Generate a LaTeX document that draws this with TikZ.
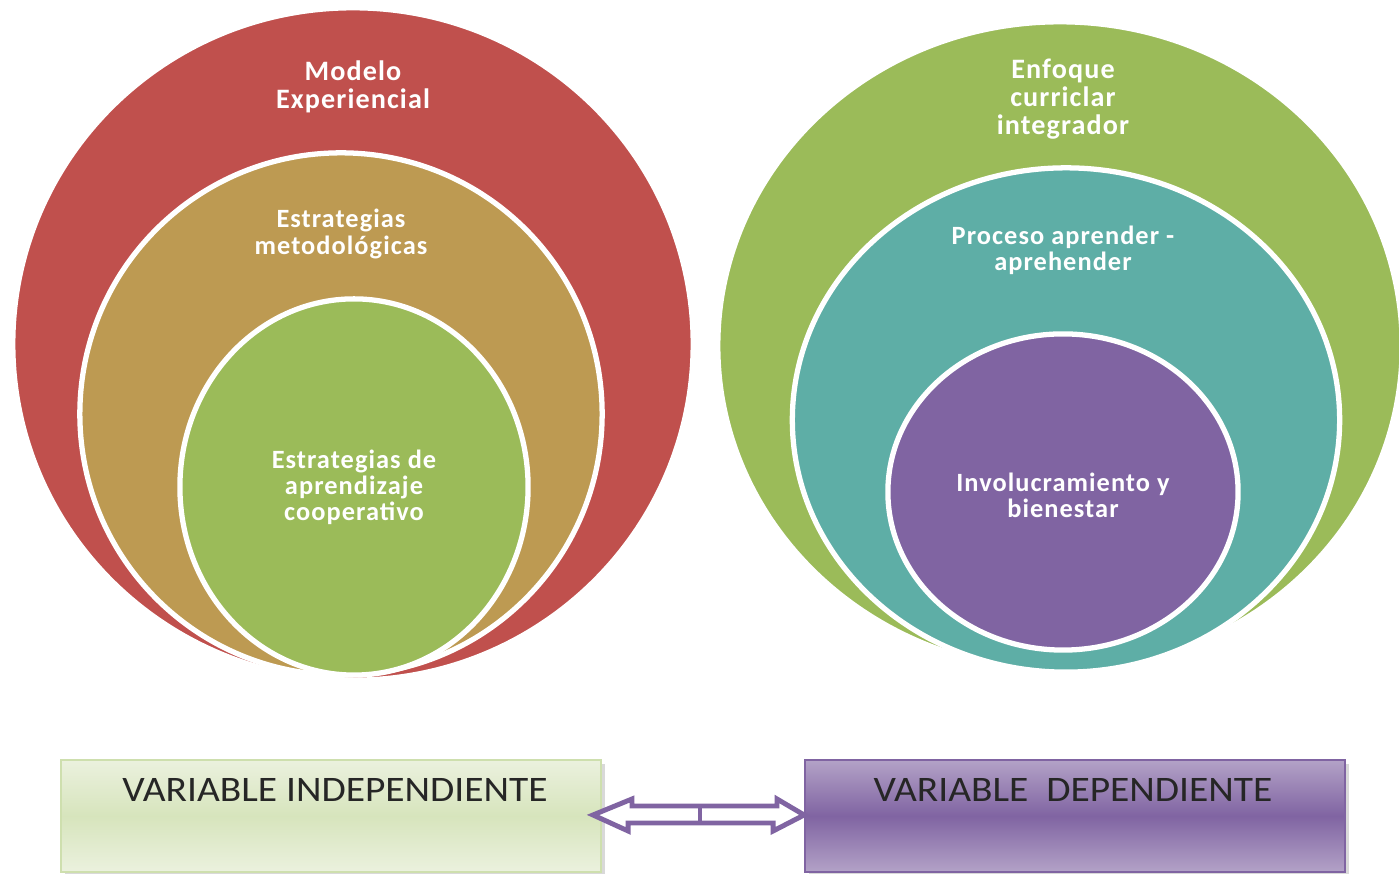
\documentclass[tikz,border=0pt]{standalone}
\usepackage{fontspec}
\setmainfont{Carlito}
\newfontfamily\circfont[LetterSpace=4]{Carlito}
\newfontfamily\boxfont[FakeStretch=1.1]{Carlito}
\usetikzlibrary{shapes.geometric,shadows,calc}
\definecolor{rojo}{HTML}{C0504D}
\definecolor{ocre}{HTML}{BD9A52}
\definecolor{verde}{HTML}{9BBB59}
\definecolor{turquesa}{HTML}{5EAEA6}
\definecolor{morado}{HTML}{8064A2}
\definecolor{moradoclaro}{HTML}{B3A2C7}
\definecolor{verdeclaro}{HTML}{EBF1DE}
\definecolor{verdemedio}{HTML}{CEDFAE}
\begin{document}
\begin{tikzpicture}
		[x=0.01cm,y=-0.01cm,
		circulo/.style={ellipse,draw=white,line width=1.5pt,inner sep=0pt},
		titulo/.style={text=white,align=center,font=\circfont\bfseries\fontsize{8}{8}\selectfont},
		subtitulo/.style={text=white,align=center,font=\circfont\bfseries\fontsize{7.5}{7.4}\selectfont},
		recuadro/.style={minimum width=5.4cm,minimum height=1.12cm,inner sep=0pt,
			drop shadow={shadow xshift=1.2pt,shadow yshift=-1.2pt,opacity=0.3}},
		vtexto/.style={anchor=base,text=black!85,font=\boxfont\fontsize{10.2}{11}\selectfont},
		flecha/.style={draw=morado,line width=1.4pt,fill=white,line join=miter}
		]
		\clip (0,0) rectangle (1399,874);
		% variable independiente
		\node[circulo,fill=rojo,minimum width=6.8cm,minimum height=6.72cm] (modelo) at (353,344) {};
		\node[circulo,fill=ocre,minimum width=5.22cm,minimum height=5.22cm] (metodo) at (341,414) {};
		\node[circulo,fill=verde,minimum width=3.48cm,minimum height=3.76cm] (coop) at (354,487) {};
		\node[titulo] at (353,87) {Modelo\\Experiencial};
		\node[subtitulo] at (341,234) {Estrategias\\metodológicas};
		\node[subtitulo] at (coop) {Estrategias de\\aprendizaje\\cooperativo};
		% variable dependiente
		\node[circulo,fill=verde,minimum width=6.84cm,minimum height=6.48cm] (enfoque) at (1060,346) {};
		\node[circulo,fill=turquesa,minimum width=5.47cm,minimum height=5.04cm] (proceso) at (1066,420) {};
		\node[circulo,fill=morado,minimum width=3.5cm,minimum height=3.16cm] (involucra) at (1063,492) {};
		\node[titulo] at (1063,99) {Enfoque\\curriclar\\integrador};
		\node[subtitulo] at (1063,250) {Proceso aprender -\\aprehender};
		\node[subtitulo] at ([yshift=-1pt]involucra.center) {Involucramiento y\\bienestar};
		% recuadros
		\node[recuadro,draw=verdemedio,top color=verdeclaro,bottom color=verdeclaro,middle color=verdemedio!70!verdeclaro] (vi) at (331,816) {};
		\node[recuadro,draw=morado,top color=moradoclaro,bottom color=moradoclaro,middle color=morado] (vd) at (1075,816) {};
		\node[vtexto] at ($(vi.north)+(4,42)$) {VARIABLE\ INDEPENDIENTE};
		\node[vtexto] at ($(vd.north)+(-2,42)$) {VARIABLE\ \ DEPENDIENTE};
		\coordinate (flechaI) at (593,815);
		\coordinate (flechaD) at (vd.west |- flechaI);
		\draw[flecha] (flechaI) -- ++(39,-16) -- ++(0,7) -- ++(145,0) -- ++(0,-7)
			-- (flechaD) -- ++(-31,16) -- ++(0,-8) -- ++(-145,0) -- ++(0,8) -- cycle;
		\draw[flecha] (700,806) -- (700,823);
	\end{tikzpicture}
\end{document}
